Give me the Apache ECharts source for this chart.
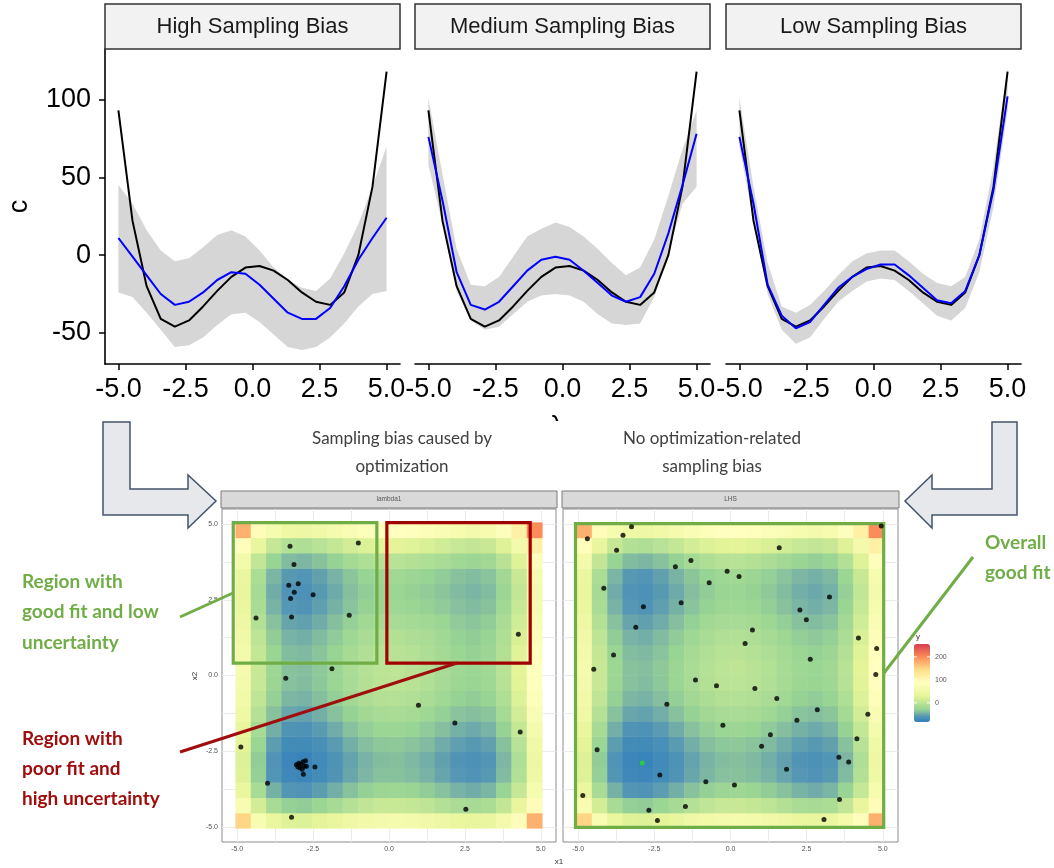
<!DOCTYPE html>
<html><head><meta charset="utf-8">
<script src="https://cdn.jsdelivr.net/npm/echarts@6/dist/echarts.min.js"></script>
<style>html,body{margin:0;padding:0;background:#fff}#c{width:1054px;height:868px}</style>
</head><body><div id="c"></div>
<script>
// ---------- top panels: lambda grid and c values ----------
const lambdaVals = [-5, -4.474, -3.947, -3.421, -2.895, -2.368, -1.842, -1.316, -0.789, -0.263, 0.263, 0.789, 1.316, 1.842, 2.368, 2.895, 3.421, 3.947, 4.474, 5];
const trueC = [93, 22, -20, -41, -46, -42, -33, -23, -14, -8, -7, -10, -16, -24, -30, -32, -24, 0, 44, 118];

const highBlue = [11, -1, -13, -25, -32, -30, -24, -16, -11, -12, -19, -28, -37, -41, -41, -34, -20, -3, 11, 24];
const highLow  = [-24, -27, -37, -48, -59, -58, -53, -45, -38, -37, -43, -51, -59, -61, -59, -53, -44, -33, -25, -23];
const highUp   = [45, 33, 16, 3, -4, -2, 5, 13, 16, 12, 3, -8, -16, -21, -23, -15, 1, 20, 44, 70];

const medBlue = [76, 35, -11, -32, -35, -30, -20, -10, -3, -1, -3, -10, -18, -26, -30, -27, -12, 14, 45, 78];
const medLow  = [58, 20, -23, -42, -48, -46, -38, -30, -26, -25, -26, -30, -38, -44, -45, -44, -27, 1, 33, 44];
const medUp   = [101, 52, 4, -19, -20, -14, -1, 12, 17, 21, 18, 12, 4, -5, -13, -8, 10, 38, 68, 93];

const lowBlue = [76, 33, -19, -39, -47, -43, -32, -21, -14, -9, -6, -6, -13, -21, -29, -31, -23, 0, 42, 102];
const lowLow  = [70, 22, -25, -48, -57, -53, -41, -30, -23, -17, -15, -16, -23, -31, -39, -42, -34, -11, 31, 93];
const lowUp   = [101, 44, -5, -33, -37, -32, -23, -13, -4, 1, 3, 3, -4, -12, -18, -20, -14, 10, 57, 121];

const panelTitles = ['High Sampling Bias', 'Medium Sampling Bias', 'Low Sampling Bias'];
const topXTicks = [-5, -2.5, 0, 2.5, 5];
const topYTicks = [-50, 0, 50, 100];

// ---------- bottom panels: surfaces (rows = x2 from -4.75 up, cols = x1 from -4.75) ----------
const heatCats = ['-4.75','-4.25','-3.75','-3.25','-2.75','-2.25','-1.75','-1.25','-0.75','-0.25','0.25','0.75','1.25','1.75','2.25','2.75','3.25','3.75','4.25','4.75'];

const lhsGrid = [
[150,70,39,25,23,29,38,48,56,61,62,59,54,47,40,37,41,58,91,175],
[70,16,-15,-29,-31,-25,-16,-6,2,7,8,5,0,-7,-14,-17,-13,4,37,94],
[39,-15,-46,-60,-62,-56,-47,-37,-29,-24,-23,-26,-31,-38,-45,-48,-44,-27,6,63],
[25,-29,-60,-74,-76,-70,-61,-51,-43,-38,-37,-40,-45,-52,-59,-62,-58,-41,-8,49],
[23,-31,-62,-76,-78,-72,-63,-53,-45,-40,-39,-42,-47,-54,-61,-64,-60,-43,-10,47],
[29,-25,-56,-70,-72,-66,-57,-47,-39,-34,-33,-36,-41,-48,-55,-58,-54,-37,-4,53],
[38,-16,-47,-61,-63,-57,-48,-38,-30,-25,-24,-27,-32,-39,-46,-49,-45,-28,5,62],
[48,-6,-37,-51,-53,-47,-38,-28,-20,-15,-14,-17,-22,-29,-36,-39,-35,-18,15,72],
[56,2,-29,-43,-45,-39,-30,-20,-12,-7,-6,-9,-14,-21,-28,-31,-27,-10,23,80],
[61,7,-24,-38,-40,-34,-25,-15,-7,-2,-1,-4,-9,-16,-23,-26,-22,-5,28,85],
[62,8,-23,-37,-39,-33,-24,-14,-6,-1,0,-3,-8,-15,-22,-25,-21,-4,29,86],
[59,5,-26,-40,-42,-36,-27,-17,-9,-4,-3,-6,-11,-18,-25,-28,-24,-7,26,83],
[54,0,-31,-45,-47,-41,-32,-22,-14,-9,-8,-11,-16,-23,-30,-33,-29,-12,21,78],
[47,-7,-38,-52,-54,-48,-39,-29,-21,-16,-15,-18,-23,-30,-37,-40,-36,-19,14,71],
[40,-14,-45,-59,-61,-55,-46,-36,-28,-23,-22,-25,-30,-37,-44,-47,-43,-26,7,64],
[37,-17,-48,-62,-64,-58,-49,-39,-31,-26,-25,-28,-33,-40,-47,-50,-46,-29,4,61],
[41,-13,-44,-58,-60,-54,-45,-35,-27,-22,-21,-24,-29,-36,-43,-46,-42,-25,8,65],
[58,4,-27,-41,-43,-37,-28,-18,-10,-5,-4,-7,-12,-19,-26,-29,-25,-8,25,82],
[91,37,6,-8,-10,-4,5,15,23,28,29,26,21,14,7,4,8,25,58,115],
[175,94,63,49,47,53,62,72,80,85,86,83,78,71,64,61,65,82,115,200]
];

const lambda1Grid = [
[150,70,39,25,23,29,38,48,56,61,62,59,54,47,40,37,41,58,91,175],
[70,16,-15,-29,-31,-25,-16,-6,2,7,8,5,0,-7,-14,-17,-13,4,37,94],
[39,-15,-46,-60,-62,-56,-47,-37,-29,-24,-23,-26,-31,-38,-45,-48,-44,-27,6,63],
[25,-29,-60,-74,-76,-70,-61,-51,-43,-38,-37,-40,-45,-52,-59,-62,-58,-41,-8,49],
[23,-31,-62,-76,-78,-72,-63,-53,-45,-40,-39,-42,-47,-54,-61,-64,-60,-43,-10,47],
[29,-25,-56,-70,-72,-66,-57,-47,-39,-34,-33,-36,-41,-48,-55,-58,-54,-37,-4,53],
[38,-16,-47,-61,-63,-57,-48,-38,-30,-25,-24,-27,-32,-39,-46,-49,-45,-28,5,62],
[48,-6,-37,-51,-53,-47,-38,-28,-20,-15,-14,-17,-22,-29,-36,-39,-35,-18,15,72],
[56,2,-29,-43,-45,-39,-30,-20,-12,-7,-6,-9,-14,-21,-28,-31,-27,-10,23,80],
[61,7,-24,-38,-40,-34,-25,-15,-7,-2,-1,-4,-9,-16,-23,-26,-22,-5,28,85],
[62,8,-23,-37,-39,-33,-24,-14,-6,-1,0,-3,-8,-15,-22,-25,-21,-4,29,86],
[59,5,-26,-40,-42,-36,-27,-17,-9,-4,-3,-6,-11,-18,-25,-28,-24,-7,26,83],
[54,0,-31,-45,-47,-41,-32,-22,-14,-9,-8,-11,-14,-21,-28,-31,-27,-10,21,78],
[47,-7,-38,-52,-54,-48,-39,-29,-21,-16,-15,-18,-21,-25,-32,-35,-31,-14,14,71],
[40,-14,-45,-59,-61,-55,-46,-36,-28,-23,-22,-25,-28,-32,-38,-41,-37,-21,7,64],
[37,-17,-48,-62,-64,-58,-49,-39,-31,-26,-25,-28,-31,-35,-41,-44,-40,-24,4,61],
[41,-13,-44,-58,-60,-54,-45,-35,-27,-22,-21,-24,-27,-31,-37,-40,-36,-20,8,65],
[58,4,-27,-41,-43,-37,-28,-18,-10,-5,-4,-7,-10,-14,-21,-24,-20,-3,25,82],
[91,37,6,-8,-10,-4,5,15,23,28,29,26,21,14,7,4,8,25,58,115],
[175,94,63,49,47,53,62,72,80,85,86,83,78,71,64,61,65,82,115,200]
];

const lambda1PtsX = [-3.26,-1.01,-3.13,-3.30,-2.99,-3.12,-3.24,-2.50,-4.38,-3.21,-1.31,4.26,-1.88,-3.40,0.97,2.17,4.32,-4.88,-3.05,-2.97,-2.90,-2.83,-2.75,-2.78,-2.93,-2.86,-2.72,-3.00,-2.44,-2.82,-4.00,2.53,-3.21];
const lambda1PtsY = [4.27,4.38,3.67,2.98,3.03,2.75,2.54,2.67,1.90,1.93,1.99,1.36,0.22,-0.09,-0.98,-1.57,-1.87,-2.36,-2.95,-2.90,-2.93,-2.85,-2.82,-3.00,-3.05,-3.10,-3.00,-3.02,-3.02,-3.26,-3.56,-4.42,-4.68];

const lhsPtsX = [-3.25,-4.70,-3.53,-3.74,1.60,-1.30,-1.81,-0.11,0.28,-0.70,-4.16,3.25,-2.86,-1.62,2.28,2.49,-3.11,0.72,0.48,4.20,4.80,-3.84,2.62,-4.49,4.77,-1.15,-0.46,0.80,1.52,-2.09,2.85,2.18,4.51,-0.25,1.31,4.15,1.02,-4.38,3.56,3.88,-2.32,1.84,-0.81,0.13,-4.85,3.58,-2.68,-1.48,-2.40,3.07,4.95];
const lhsPtsY = [4.91,4.52,4.63,4.14,4.22,3.80,3.59,3.44,3.27,3.06,2.88,2.59,2.27,2.40,2.16,1.84,1.59,1.50,1.06,1.24,0.89,0.68,0.54,0.21,0.03,-0.15,-0.34,-0.43,-0.76,-0.95,-1.13,-1.48,-1.28,-1.64,-1.96,-2.09,-2.34,-2.45,-2.70,-2.86,-3.29,-3.10,-3.51,-3.62,-3.96,-4.10,-4.45,-4.33,-4.79,-4.76,4.94];
const lhsBestX = [-2.90];
const lhsBestY = [-2.89];

const bottomTicks = [-5, -2.5, 0, 2.5, 5];
const bottomGrid = [-5, -3.75, -2.5, -1.25, 0, 1.25, 2.5, 3.75, 5];
const legendTicks = [200, 100, 0];
const colorMin = -83, colorMax = 256;
// colour ramp stops [value, colour]
const rampStops = [[-83,'#3280bb'],[-60,'#5394b5'],[-40,'#84bd9f'],[-26.5,'#99d594'],[30,'#e6f598'],[86.5,'#ffffbf'],[143,'#fee08b'],[199.5,'#fc8d59'],[256,'#d53e4f']];

// annotation boxes (data coordinates)
const goodBox = [[-5.13, 5.05], [-0.40, 0.41]];
const poorBox = [[-0.07, 5.05], [4.65, 0.41]];
const lhsBox  = [[-5.09, 5.02], [5.03, -5.02]];

// ---------- colour ramp sampled evenly for visualMap ----------
function hex2rgb(h){ return [1,3,5].map(i => parseInt(h.substr(i,2),16)); }
function rampAt(v){
  for (let i = 0; i < rampStops.length - 1; i++) {
    const a = rampStops[i], b = rampStops[i+1];
    if (v <= b[0]) {
      const t = (v - a[0]) / (b[0] - a[0]); const ca = hex2rgb(a[1]), cb = hex2rgb(b[1]);
      return 'rgb(' + ca.map((c,k) => Math.round(c + t*(cb[k]-c))).join(',') + ')';
    }
  }
  return rampStops[rampStops.length-1][1];
}
const rampColors = [];
for (let i = 0; i <= 60; i++) rampColors.push(rampAt(colorMin + i/60*(colorMax-colorMin)));

// ---------- layout ----------
const FONT = 'Liberation Sans';
const topGrids = [{left:105},{left:415},{left:726}].map(g => ({left:g.left, top:49, width:295, height:315}));
const botGrids = [{left:222, top:509, width:334, height:333}, {left:563, top:509, width:335, height:333}];
function heatRect(g){
  const px = v => g.left + (v + 5.5) / 11 * g.width;
  const py = v => g.top + (5.5 - v) / 11 * g.height;
  return {left: px(-5.05), top: py(5.05), width: px(5.05) - px(-5.05), height: py(-5.05) - py(5.05)};
}
const grids = [...topGrids,
  ...botGrids.map(g => Object.assign({show:true, borderColor:'#8c8c8c', borderWidth:1, backgroundColor:'#fff'}, g)),
  ...botGrids.map(heatRect)];

const xAxis = [], yAxis = [];
const fmt = v => Number(v).toFixed(1);
for (let i = 0; i < 3; i++) {
  xAxis.push({type:'value', gridIndex:i, min:-5.5, max:5.5,
    axisLine:{show:true, onZero:false, lineStyle:{color:'#000', width:1.6}},
    axisTick:{show:true, customValues:topXTicks, length:6, lineStyle:{color:'#000', width:1.5}},
    axisLabel:{customValues:topXTicks, formatter:fmt, fontSize:27, color:'#000', fontFamily:FONT, margin:12},
    splitLine:{show:false}});
  yAxis.push({type:'value', gridIndex:i, min:-70, max:132.5, show: i === 0,
    name: i === 0 ? 'c' : '', nameLocation:'middle', nameGap:72,
    nameTextStyle:{fontSize:27, color:'#000', fontFamily:FONT},
    axisLine:{show:true, onZero:false, lineStyle:{color:'#000', width:1.6}},
    axisTick:{show:true, customValues:topYTicks, length:6, lineStyle:{color:'#000', width:1.5}},
    axisLabel:{customValues:topYTicks, fontSize:27, color:'#000', fontFamily:FONT, margin:14},
    splitLine:{show:false}});
}
for (let k = 0; k < 2; k++) {
  xAxis.push({type:'value', gridIndex:3+k, min:-5.5, max:5.5,
    axisLine:{show:false}, axisTick:{show:true, customValues:bottomTicks, length:3, lineStyle:{color:'#555'}},
    axisLabel:{customValues:bottomTicks, formatter:fmt, fontSize:7, color:'#555', fontFamily:FONT, margin:4},
    splitLine:{show:false}});
  yAxis.push({type:'value', gridIndex:3+k, min:-5.5, max:5.5,
    axisLine:{show:false}, axisTick:{show:k===0, customValues:bottomTicks, length:3, lineStyle:{color:'#555'}},
    axisLabel:{show:k===0, customValues:bottomTicks, formatter:fmt, fontSize:7, color:'#555', fontFamily:FONT, margin:4},
    splitLine:{show:false}});
}
for (let k = 0; k < 2; k++) {
  xAxis.push({type:'category', gridIndex:5+k, data:heatCats, show:false});
  yAxis.push({type:'category', gridIndex:5+k, data:heatCats, show:false});
}

const series = [];
function bandSeries(idx, lo, up){
  return {type:'custom', xAxisIndex:idx, yAxisIndex:idx, silent:true, z:1,
    data: lambdaVals.map((x, i) => [x, lo[i], up[i]]), encode:{x:0, y:[1,2]},
    renderItem: (params, api) => {
      if (params.dataIndex !== 0) return null;
      const pts = [];
      for (let i = 0; i < lambdaVals.length; i++) pts.push(api.coord([lambdaVals[i], up[i]]));
      for (let i = lambdaVals.length - 1; i >= 0; i--) pts.push(api.coord([lambdaVals[i], lo[i]]));
      return {type:'polygon', shape:{points:pts}, style:{fill:'#d6d6d6'}};
    }};
}
const panels = [[highBlue, highLow, highUp], [medBlue, medLow, medUp], [lowBlue, lowLow, lowUp]];
panels.forEach((p, i) => {
  series.push(bandSeries(i, p[1], p[2]));
  series.push({type:'line', xAxisIndex:i, yAxisIndex:i, data: lambdaVals.map((x,j)=>[x, trueC[j]]),
    symbol:'none', lineStyle:{color:'#000', width:2}, z:3, silent:true});
  series.push({type:'line', xAxisIndex:i, yAxisIndex:i, data: lambdaVals.map((x,j)=>[x, p[0][j]]),
    symbol:'none', lineStyle:{color:'#0000ff', width:2}, z:4, silent:true});
});

// bottom: grid lines
for (let k = 0; k < 2; k++) {
  series.push({type:'line', xAxisIndex:3+k, yAxisIndex:3+k, data:[[-9,-9]], symbol:'none', silent:true, z:1,
    markLine:{silent:true, symbol:'none', z:1, label:{show:false},
      lineStyle:{color:'#ebebeb', type:'solid', width:1},
      data: [...bottomGrid.map(v => ({xAxis:v})), ...bottomGrid.map(v => ({yAxis:v}))]}});
}
// heatmaps
const heatIdx = [];
[lambda1Grid, lhsGrid].forEach((G, k) => {
  const data = [];
  for (let r = 0; r < G.length; r++) for (let c = 0; c < G[r].length; c++) data.push([c, r, G[r][c]]);
  heatIdx.push(series.length);
  series.push({type:'heatmap', xAxisIndex:5+k, yAxisIndex:5+k, data, silent:true, z:2, progressive:0});
});
// boxes
function boxSeries(axis, boxes, colors){
  return {type:'line', xAxisIndex:axis, yAxisIndex:axis, data:[[-9,-9]], symbol:'none', silent:true, z:8,
    markArea:{silent:true, z:8, label:{show:false},
      data: boxes.map((b, i) => [{coord:b[0], itemStyle:{color:'rgba(0,0,0,0)', borderColor:colors[i], borderWidth:3.2}}, {coord:b[1]}])}};
}
series.push(boxSeries(3, [goodBox, poorBox], ['#70ad47', '#a00000']));
series.push(boxSeries(4, [lhsBox], ['#70ad47']));
// points
series.push({type:'scatter', xAxisIndex:3, yAxisIndex:3, data: lambda1PtsX.map((x,i)=>[x, lambda1PtsY[i]]),
  symbolSize:5, itemStyle:{color:'#000'}, z:10, silent:true});
series.push({type:'scatter', xAxisIndex:4, yAxisIndex:4, data: lhsPtsX.map((x,i)=>[x, lhsPtsY[i]]),
  symbolSize:5, itemStyle:{color:'#000'}, z:10, silent:true});
series.push({type:'scatter', xAxisIndex:4, yAxisIndex:4, data: lhsBestX.map((x,i)=>[x, lhsBestY[i]]),
  symbolSize:5, itemStyle:{color:'#22e022'}, z:11, silent:true});

// ---------- graphics ----------
const G = [];
const T = (text, x, y, o) => G.push(Object.assign({type:'text', x, y, z:100, silent:true,
  style: Object.assign({text, fill:'#000', fontFamily:FONT, fontSize:12, align:'center', verticalAlign:'middle'}, o || {})}));
topGrids.forEach((g, i) => {
  G.push({type:'rect', z:100, silent:true, shape:{x:g.left, y:4, width:g.width, height:45}, style:{fill:'#f2f2f2', stroke:'#333', lineWidth:1.5}});
  T(panelTitles[i], g.left + g.width/2, 27, {fontSize:22, fill:'#1a1a1a'});
});
// lambda axis title (mostly hidden beneath lower figure)
T('λ', 557, 428, {fontSize:27});
G.push({type:'rect', z:101, silent:true, shape:{x:535, y:421, width:45, height:25}, style:{fill:'#fff'}});

// lower strips
const stripNames = ['lambda1', 'LHS'];
[[221, 336], [562, 337]].forEach((s, k) => {
  G.push({type:'rect', z:100, silent:true, shape:{x:s[0], y:491, width:s[1], height:17}, style:{fill:'#d9d9d9', stroke:'#7a7a7a', lineWidth:1}});
  T(stripNames[k], s[0] + s[1]/2, 499.5, {fontSize:6.5, fill:'#555'});
});
T('x1', 559, 862, {fontSize:8, fill:'#333'});
G.push({type:'text', x:195, y:676, rotation:Math.PI/2, z:100, silent:true,
  style:{text:'x2', fontFamily:FONT, fontSize:8, fill:'#333', align:'center', verticalAlign:'middle'}});

// sub titles
const ANN = 'Lato';
T('Sampling bias caused by', 402, 439, {fontSize:17, fontFamily:ANN, fill:'#404040'});
T('optimization', 402, 467, {fontSize:17, fontFamily:ANN, fill:'#404040'});
T('No optimization-related', 712, 439, {fontSize:17, fontFamily:ANN, fill:'#404040'});
T('sampling bias', 712, 467, {fontSize:17, fontFamily:ANN, fill:'#404040'});

// annotations
const green = '#70ad47', red = '#a00d0d';
[['Region with', 582], ['good fit and low', 612], ['uncertainty', 643]].forEach(a =>
  T(a[0], 22, a[1], {fontSize:19, fontFamily:ANN, fontWeight:'bold', fill:green, align:'left'}));
[['Region with', 739], ['poor fit and', 769], ['high uncertainty', 799]].forEach(a =>
  T(a[0], 22, a[1], {fontSize:19, fontFamily:ANN, fontWeight:'bold', fill:red, align:'left'}));
[['Overall', 543], ['good fit', 573]].forEach(a =>
  T(a[0], 985, a[1], {fontSize:19, fontFamily:ANN, fontWeight:'bold', fill:green, align:'left'}));
const L = (x1, y1, x2, y2, c) => G.push({type:'line', z:100, silent:true, shape:{x1, y1, x2, y2}, style:{stroke:c, lineWidth:3}});
L(180, 617, 233, 593, green);
L(180, 752, 457, 663, red);
L(884, 673, 973, 557, green);

// block arrows
const arrowStyle = {fill:'#e6e8ec', stroke:'#44546a', lineWidth:1.5};
G.push({type:'polygon', z:100, silent:true, style:arrowStyle,
  shape:{points:[[103,422],[130,422],[130,489],[188,489],[188,475],[216,501],[188,528],[188,515],[103,515]]}});
G.push({type:'polygon', z:100, silent:true, style:arrowStyle,
  shape:{points:[[1017,422],[992,422],[992,489],[932,489],[932,475],[905,501],[932,528],[932,515],[1017,515]]}});

// colour legend labels
const barTop = 644, barH = 78, barX = 914, barW = 16;
T('y', 916, 637, {fontSize:8, fill:'#333', align:'left'});
legendTicks.forEach(v => {
  const y = barTop + (colorMax - v) / (colorMax - colorMin) * barH;
  T(String(v), barX + barW + 5, y, {fontSize:7, fill:'#555', align:'left'});
  G.push({type:'line', z:100, silent:true, shape:{x1:barX, y1:y, x2:barX+3, y2:y}, style:{stroke:'#fff', lineWidth:1}});
  G.push({type:'line', z:100, silent:true, shape:{x1:barX+barW-3, y1:y, x2:barX+barW, y2:y}, style:{stroke:'#fff', lineWidth:1}});
});

const option = {
  animation:false,
  backgroundColor:'#fff',
  grid: grids,
  xAxis, yAxis, series,
  visualMap: {type:'continuous', min:colorMin, max:colorMax, seriesIndex:heatIdx, calculable:false,
    inRange:{color:rampColors}, left:barX, top:barTop, itemWidth:barW, itemHeight:barH, padding:0,
    text:null, orient:'vertical', hoverLink:false},
  graphic: {elements: G}
};
const chart = echarts.init(document.getElementById('c'), null, {renderer:'canvas'});
chart.setOption(option);
</script>
</body></html>
